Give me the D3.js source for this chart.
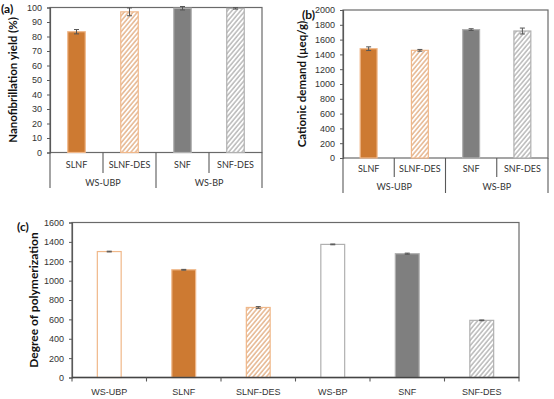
<!DOCTYPE html>
<html>
<head>
<meta charset="utf-8">
<script src="https://cdn.jsdelivr.net/npm/d3@7"></script>
<style>
  body { margin: 0; background: #fff; }
  svg { display: block; font-family: Lato, "Open Sans", sans-serif; }
</style>
</head>
<body>
<script>
// three bar panels: (a) yield, (b) cationic demand, (c) degree of polymerization

const samplesAB = ["SLNF", "SLNF-DES", "SNF", "SNF-DES"];
const pulpsAB = ["WS-UBP", "WS-BP"];
const yieldVals = [83.3, 97, 99.5, 99.4];
const yieldErr = [1.5, 2.7, 1.2, 0.5];
const cdVals = [1477, 1455, 1735, 1716];
const cdErr = [25, 12, 12, 40];

const samplesC = ["WS-UBP", "SLNF", "SLNF-DES", "WS-BP", "SNF", "SNF-DES"];
const dpVals = [1300, 1112, 723, 1374, 1278, 590];
const dpErr = [4, 4, 9, 4, 6, 4];

const orange = "#CD7A32";
const orangeLight = "#F0B88A";
const gray = "#7F7F7F";
const grayLight = "#B0B0B0";
const axisCol = "#595959";

const styleOf = {
  "WS-UBP": { fill: "#fff", stroke: orangeLight },
  "SLNF": { fill: orange, stroke: orangeLight },
  "SLNF-DES": { fill: "url(#hatchOrange)", stroke: orangeLight },
  "WS-BP": { fill: "#fff", stroke: grayLight },
  "SNF": { fill: gray, stroke: grayLight },
  "SNF-DES": { fill: "url(#hatchGray)", stroke: grayLight }
};

const svg = d3.select("body").append("svg").attr("width", 554).attr("height", 399);

const defs = svg.append("defs");
function hatch(id, color) {
  const p = defs.append("pattern")
    .attr("id", id)
    .attr("patternUnits", "userSpaceOnUse")
    .attr("width", 3.4)
    .attr("height", 3.4)
    .attr("patternTransform", "rotate(40)");
  p.append("rect").attr("width", 3.4).attr("height", 3.4).attr("fill", "#fff");
  p.append("line").attr("x1", 0.9).attr("y1", 0).attr("x2", 0.9).attr("y2", 3.4)
    .attr("stroke", color).attr("stroke-width", 1.1);
}
hatch("hatchOrange", "#DC9C66");
hatch("hatchGray", "#A0A0A0");

function drawPanel(o) {
  const g = svg.append("g");
  // inner padding p, outer p/2 -> every category gets an equal slot
  const x = d3.scaleBand().domain(o.cats).range([o.left, o.right])
    .paddingInner(o.pad).paddingOuter(o.pad / 2);
  const y = d3.scaleLinear().domain([0, o.max]).range([o.bottom, o.top]);

  g.append("rect")
    .attr("x", o.left).attr("y", o.top)
    .attr("width", o.right - o.left).attr("height", o.bottom - o.top)
    .attr("fill", "none").attr("stroke", "#6a6a6a").attr("stroke-width", 1.2);

  const yAxis = g.append("g")
    .attr("transform", `translate(${o.left},0)`)
    .call(d3.axisLeft(y).tickValues(d3.range(0, o.max + 1, o.step))
      .tickFormat(d3.format("d")).tickSize(3).tickPadding(5));
  yAxis.select(".domain").attr("stroke", axisCol).attr("stroke-width", 1.2);
  yAxis.selectAll(".tick line").attr("stroke", axisCol);
  yAxis.selectAll("text").attr("font-size", 9).attr("fill", "#333");

  const data = o.cats.map((c, i) => ({ c, v: o.vals[i], e: o.err[i] }));
  const cx = (d) => x(d.c) + x.bandwidth() / 2;

  g.selectAll(".bar").data(data).enter().append("rect")
    .attr("class", "bar")
    .attr("x", (d) => x(d.c))
    .attr("y", (d) => y(d.v))
    .attr("width", x.bandwidth())
    .attr("height", (d) => y(0) - y(d.v))
    .attr("fill", (d) => styleOf[d.c].fill)
    .attr("stroke", (d) => styleOf[d.c].stroke)
    .attr("stroke-width", 1.2);

  const eb = g.selectAll(".err").data(data).enter().append("g")
    .attr("class", "err").attr("stroke", "#555").attr("stroke-width", 1);
  eb.append("line")
    .attr("x1", cx).attr("x2", cx)
    .attr("y1", (d) => y(d.v + d.e)).attr("y2", (d) => y(d.v - d.e));
  eb.append("line")
    .attr("x1", (d) => cx(d) - 2.5).attr("x2", (d) => cx(d) + 2.5)
    .attr("y1", (d) => y(d.v + d.e)).attr("y2", (d) => y(d.v + d.e));
  eb.append("line")
    .attr("x1", (d) => cx(d) - 2.5).attr("x2", (d) => cx(d) + 2.5)
    .attr("y1", (d) => y(d.v - d.e)).attr("y2", (d) => y(d.v - d.e));

  g.append("text")
    .attr("transform", `translate(${o.titleX},${(o.top + o.bottom) / 2}) rotate(-90)`)
    .attr("text-anchor", "middle")
    .attr("font-size", o.titleSize)
    .attr("font-weight", "bold")
    .attr("fill", "#111")
    .text(o.title);
  g.append("text")
    .attr("x", o.letterX).attr("y", o.letterY)
    .attr("font-size", 12).attr("font-weight", "bold").attr("fill", "#111")
    .text(o.letter);

  return { g, x, y };
}

function twoLevelAxis(p, o) {
  const { g, x } = p;
  const step = x.step();
  const lines = g.append("g").attr("stroke", axisCol).attr("stroke-width", 1.1);
  const x0 = o.left, x1 = o.right;
  [x0, x0 + 2 * step, x1].forEach((xx) => {
    lines.append("line").attr("x1", xx).attr("x2", xx).attr("y1", o.bottom).attr("y2", o.groupBottom);
  });
  [x0 + step, x0 + 3 * step].forEach((xx) => {
    lines.append("line").attr("x1", xx).attr("x2", xx).attr("y1", o.bottom).attr("y2", o.rowBottom);
  });
  g.selectAll(".cat").data(o.cats).enter().append("text")
    .attr("class", "cat")
    .attr("x", (d) => x(d) + x.bandwidth() / 2)
    .attr("y", o.catY)
    .attr("text-anchor", "middle")
    .attr("font-size", 9).attr("fill", "#333")
    .text((d) => d);
  g.selectAll(".grp").data(o.groups).enter().append("text")
    .attr("class", "grp")
    .attr("x", (d, i) => x0 + step * (2 * i + 1))
    .attr("y", o.groupY)
    .attr("text-anchor", "middle")
    .attr("font-size", 9).attr("fill", "#333")
    .text((d) => d);
}

// (a)
const optA = {
  cats: samplesAB, vals: yieldVals, err: yieldErr, max: 100, step: 10,
  left: 50, right: 262, top: 7.5, bottom: 152.5, pad: 0.67,
  title: "Nanofibrillation yield (%)", titleX: 17, titleSize: 11.5,
  letter: "(a)", letterX: 1, letterY: 13,
  groups: pulpsAB, catY: 168, rowBottom: 173, groupY: 186, groupBottom: 188
};
twoLevelAxis(drawPanel(optA), optA);

// (b)
const optB = {
  cats: samplesAB, vals: cdVals, err: cdErr, max: 2000, step: 200,
  left: 343, right: 548, top: 10, bottom: 158, pad: 0.67,
  title: "Cationic demand (µeq/g)", titleX: 306, titleSize: 11.5,
  letter: "(b)", letterX: 302, letterY: 19,
  groups: pulpsAB, catY: 172, rowBottom: 177, groupY: 190, groupBottom: 193
};
twoLevelAxis(drawPanel(optB), optB);

// (c)
const optC = {
  cats: samplesC, vals: dpVals, err: dpErr, max: 1600, step: 200,
  left: 72, right: 519, top: 222.5, bottom: 377.5, pad: 0.68,
  title: "Degree of polymerization", titleX: 38, titleSize: 12,
  letter: "(c)", letterX: 17, letterY: 231
};
const pc = drawPanel(optC);
const xAxisC = pc.g.append("g").attr("transform", `translate(0,${optC.bottom})`)
  .call(d3.axisBottom(pc.x).tickSize(0).tickPadding(11));
xAxisC.select(".domain").remove();
xAxisC.selectAll("text").attr("font-size", 9).attr("fill", "#333");
pc.g.append("line")
  .attr("x1", optC.left).attr("x2", optC.right)
  .attr("y1", optC.bottom).attr("y2", optC.bottom)
  .attr("stroke", "#444").attr("stroke-width", 1.4);
pc.g.selectAll(".sep").data(d3.range(samplesC.length + 1)).enter().append("line")
  .attr("class", "sep")
  .attr("x1", (i) => optC.left + i * pc.x.step()).attr("x2", (i) => optC.left + i * pc.x.step())
  .attr("y1", optC.bottom).attr("y2", optC.bottom + 4)
  .attr("stroke", axisCol).attr("stroke-width", 1.1);
</script>
</body>
</html>
